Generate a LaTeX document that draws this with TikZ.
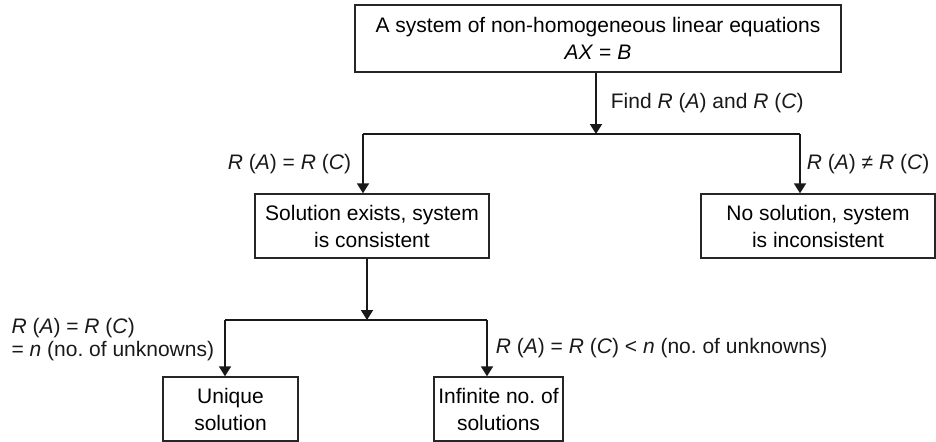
\documentclass[tikz,border=0pt]{standalone}
\usepackage{fontspec}
\setmainfont{Liberation Sans}
\usepackage{tikz}
\usetikzlibrary{arrows.meta,positioning}
\newcommand{\rk}[1]{\textit{R}~(\textit{#1})}
\frenchspacing

\begin{document}
\begin{tikzpicture}[
  x=0.5pt, y=-0.5pt,
  box/.style={draw=black!85, line width=0.7pt, align=center,
              font=\fontsize{10.5}{13.5}\selectfont, inner xsep=2pt, inner ysep=3pt,
              minimum height=32pt},
  arr/.style={-{Triangle[length=5pt,width=6pt]}, line width=0.9pt, black!90},
  bar/.style={line width=0.9pt, black!90},
  ann/.style={font=\fontsize{10.5}{11.5}\selectfont, inner sep=0pt, midway},
]
\useasboundingbox (0,0) rectangle (936,441);

\node[box, minimum width=243pt, minimum height=33.5pt] (sys) at (598,38.5)
  {A system of non-homogeneous linear equations\\ \textit{AX} = \textit{B}};
\node[box, minimum width=117pt] (cons) at (372,226) {Solution exists, system\\ is consistent};
\node[box, minimum width=117pt] (incons) at (818,226) {No solution, system\\ is inconsistent};
\node[box, minimum width=67.5pt] (uniq) at (230.5,409) {Unique\\ solution};
\node[box, minimum width=64.5pt] (infin) at (498.5,409) {Infinite no. of\\ solutions};

% forks
\coordinate (fork1) at (596,134);
\coordinate (fork1l) at (363,134);
\coordinate (fork1r) at (800,134);
\coordinate (fork2) at (367,320);
\coordinate (fork2l) at (225,320);
\coordinate (fork2r) at (487,320);

\draw[arr] (sys.south -| fork1) -- (fork1) node[ann, right, xshift=7pt] {Find \rk{A} and \rk{C}};
\draw[bar] (fork1l) -- (fork1r);
\draw[arr] (fork1l) -- (fork1l |- cons.north) node[ann, left, xshift=-5.5pt] {\rk{A} = \rk{C}};
\draw[arr] (fork1r) -- (fork1r |- incons.north) node[ann, right, xshift=3pt] {\rk{A} ≠ \rk{C}};

\draw[arr] (cons.south -| fork2) -- (fork2);
\draw[bar] (fork2l) -- (fork2r);
\draw[arr] (fork2l) -- (fork2l |- uniq.north) node[ann, left, align=left, xshift=-5pt, yshift=4.5pt]
  {\rk{A} = \rk{C}\\ = \textit{n} (no. of unknowns)};
\draw[arr] (fork2r) -- (fork2r |- infin.north) node[ann, right, xshift=4pt]
  {\rk{A} = \rk{C} < \textit{n} (no. of unknowns)};
\end{tikzpicture}
\end{document}
